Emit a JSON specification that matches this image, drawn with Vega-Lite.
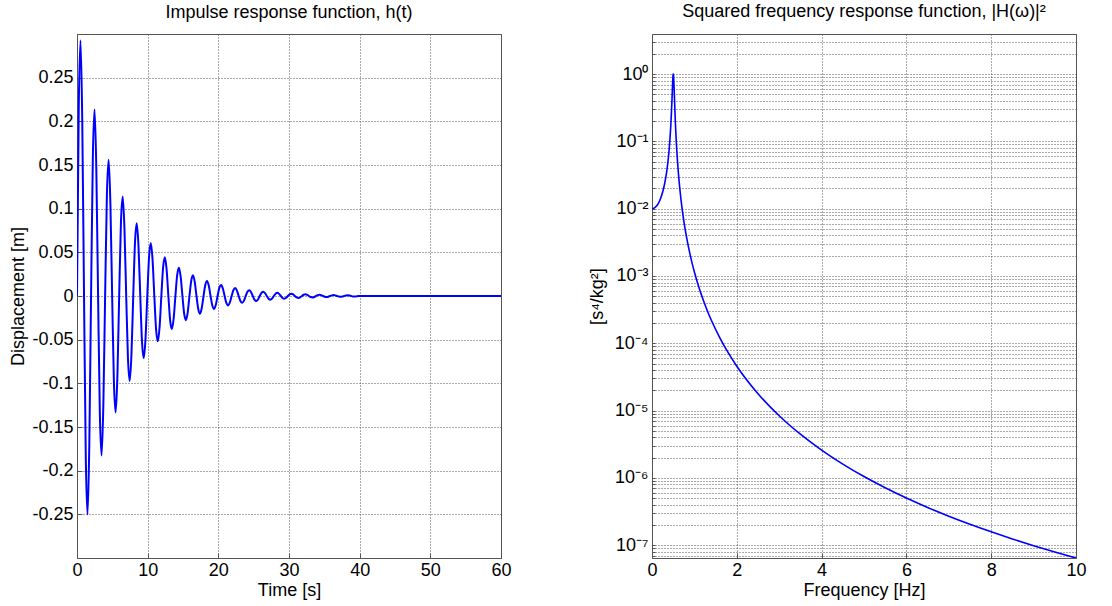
{
  "$schema": "https://vega.github.io/schema/vega-lite/v6.json",
  "padding": {"left": 9, "top": 2, "right": 5, "bottom": 5},
  "background": "white",
  "bounds": "flush",
  "spacing": 151,
  "datasets": {
    "impulse": [
      {"t":0,"h":0},{"t":0.249,"h":0.21526},{"t":0.497,"h":0.29268},{"t":0.746,"h":0.19898},{"t":0.995,"h":0},{"t":1.243,"h":-0.18393},{"t":1.492,"h":-0.25009},{"t":1.741,"h":-0.17002},
      {"t":1.989,"h":0},{"t":2.238,"h":0.15716},{"t":2.487,"h":0.21369},{"t":2.735,"h":0.14528},{"t":2.984,"h":0},{"t":3.233,"h":-0.13429},{"t":3.481,"h":-0.18259},{"t":3.730,"h":-0.12413},
      {"t":3.979,"h":0},{"t":4.228,"h":0.11475},{"t":4.476,"h":0.15602},{"t":4.725,"h":0.10607},{"t":4.974,"h":0},{"t":5.222,"h":-0.09805},{"t":5.471,"h":-0.13331},{"t":5.720,"h":-0.09063},
      {"t":5.968,"h":0},{"t":6.217,"h":0.08378},{"t":6.466,"h":0.11391},{"t":6.714,"h":0.07744},{"t":6.963,"h":0},{"t":7.212,"h":-0.07159},{"t":7.460,"h":-0.09733},{"t":7.709,"h":-0.06617},
      {"t":7.958,"h":0},{"t":8.206,"h":0.06117},{"t":8.455,"h":0.08317},{"t":8.704,"h":0.05654},{"t":8.952,"h":0},{"t":9.201,"h":-0.05227},{"t":9.450,"h":-0.07107},{"t":9.698,"h":-0.04831},
      {"t":9.947,"h":0},{"t":10.196,"h":0.04466},{"t":10.444,"h":0.06072},{"t":10.693,"h":0.04128},{"t":10.942,"h":0},{"t":11.190,"h":-0.03816},{"t":11.439,"h":-0.05189},{"t":11.688,"h":-0.03528},
      {"t":11.936,"h":0},{"t":12.185,"h":0.03261},{"t":12.434,"h":0.04434},{"t":12.682,"h":0.03014},{"t":12.931,"h":0},{"t":13.180,"h":-0.02786},{"t":13.428,"h":-0.03788},{"t":13.677,"h":-0.02576},
      {"t":13.926,"h":0},{"t":14.175,"h":0.02381},{"t":14.423,"h":0.03237},{"t":14.672,"h":0.02201},{"t":14.921,"h":0},{"t":15.169,"h":-0.02034},{"t":15.418,"h":-0.02766},{"t":15.667,"h":-0.01880},
      {"t":15.915,"h":0},{"t":16.164,"h":0.01738},{"t":16.413,"h":0.02363},{"t":16.661,"h":0.01607},{"t":16.910,"h":0},{"t":17.159,"h":-0.01485},{"t":17.407,"h":-0.02020},{"t":17.656,"h":-0.01373},
      {"t":17.905,"h":0},{"t":18.153,"h":0.01269},{"t":18.402,"h":0.01726},{"t":18.651,"h":0.01173},{"t":18.899,"h":0},{"t":19.148,"h":-0.01084},{"t":19.397,"h":-0.01475},{"t":19.645,"h":-0.01002},
      {"t":19.894,"h":0},{"t":20.143,"h":0.00927},{"t":20.391,"h":0.01260},{"t":20.640,"h":0.00857},{"t":20.889,"h":0},{"t":21.137,"h":-0.00792},{"t":21.386,"h":-0.01077},{"t":21.635,"h":-0.00732},
      {"t":21.883,"h":0},{"t":22.132,"h":0.00677},{"t":22.381,"h":0.00920},{"t":22.629,"h":0.00625},{"t":22.878,"h":0},{"t":23.127,"h":-0.00578},{"t":23.375,"h":-0.00786},{"t":23.624,"h":-0.00534},
      {"t":23.873,"h":0},{"t":24.121,"h":0.00494},{"t":24.370,"h":0.00672},{"t":24.619,"h":0.00457},{"t":24.868,"h":0},{"t":25.116,"h":-0.00422},{"t":25.365,"h":-0.00574},{"t":25.614,"h":-0.00390},
      {"t":25.862,"h":0},{"t":26.111,"h":0.00361},{"t":26.360,"h":0.00490},{"t":26.608,"h":0.00333},{"t":26.857,"h":0},{"t":27.106,"h":-0.00308},{"t":27.354,"h":-0.00419},{"t":27.603,"h":-0.00285},
      {"t":27.852,"h":0},{"t":28.100,"h":0.00263},{"t":28.349,"h":0.00358},{"t":28.598,"h":0.00243},{"t":28.846,"h":0},{"t":29.095,"h":-0.00225},{"t":29.344,"h":-0.00306},{"t":29.592,"h":-0.00208},
      {"t":29.841,"h":0},{"t":30.090,"h":0.00192},{"t":30.338,"h":0.00261},{"t":30.587,"h":0.00178},{"t":30.836,"h":0},{"t":31.084,"h":-0.00164},{"t":31.333,"h":-0.00223},{"t":31.582,"h":-0.00152},
      {"t":31.830,"h":0},{"t":32.079,"h":0.00140},{"t":32.328,"h":0.00191},{"t":32.576,"h":0.00130},{"t":32.825,"h":0},{"t":33.074,"h":-0.00120},{"t":33.322,"h":-0.00163},{"t":33.571,"h":-0.00111},
      {"t":33.820,"h":0},{"t":34.068,"h":0.00103},{"t":34.317,"h":0.00139},{"t":34.566,"h":0.00095},{"t":34.815,"h":0},{"t":35.063,"h":-0.00088},{"t":35.312,"h":-0.00119},{"t":35.561,"h":-0.00081},
      {"t":35.809,"h":0},{"t":36.058,"h":0.00075},{"t":36.307,"h":0.00102},{"t":36.555,"h":0.00069},{"t":36.804,"h":0},{"t":37.053,"h":-0.00064},{"t":37.301,"h":-0.00087},{"t":37.550,"h":-0.00059},
      {"t":37.799,"h":0},{"t":38.047,"h":0.00055},{"t":38.296,"h":0.00074},{"t":38.545,"h":0.00051},{"t":38.793,"h":0},{"t":39.042,"h":-0.00047},{"t":39.291,"h":-0.00063},{"t":39.539,"h":-0.00043},
      {"t":39.788,"h":0},{"t":60,"h":0}
    ],
    "frf": [
      {"f":0,"H":0.01},{"f":0.05,"H":0.010199},{"f":0.1,"H":0.010834},{"f":0.15,"H":0.012032},{"f":0.2,"H":0.014071},{"f":0.25,"H":0.017548},{"f":0.3,"H":0.023856},{"f":0.35,"H":0.036833},{"f":0.38,"H":0.052482},{"f":0.4,"H":0.070425},{"f":0.42,"H":0.10087},{"f":0.44,"H":0.15822},{"f":0.45,"H":0.20739},{"f":0.46,"H":0.28201},{"f":0.47,"H":0.39865},{"f":0.48,"H":0.579},{"f":0.49,"H":0.81997},{"f":0.495,"H":0.931},{"f":0.5,"H":0.99605},{"f":0.502,"H":1.0025},{"f":0.505,"H":0.98874},{"f":0.51,"H":0.91006},{"f":0.515,"H":0.78829},{"f":0.52,"H":0.65657},{"f":0.53,"H":0.43555},{"f":0.54,"H":0.29095},{"f":0.55,"H":0.20135},{"f":0.56,"H":0.14483},{"f":0.57,"H":0.10785},{"f":0.58,"H":0.082713},{"f":0.6,"H":0.052181},{"f":0.62,"H":0.035331},{"f":0.64,"H":0.025195},{"f":0.65,"H":0.021605},{"f":0.68,"H":0.014292},{"f":0.7,"H":0.011204},{"f":0.72,"H":0.0089625},{"f":0.75,"H":0.0066128},{"f":0.8,"H":0.0042448},{"f":0.85,"H":0.0028905},{"f":0.9,"H":0.0020567},{"f":0.95,"H":0.0015142},{"f":1.0,"H":0.0011456},{"f":1.1,"H":0.00069869},{"f":1.2,"H":0.00045444},{"f":1.3,"H":0.00031021},{"f":1.4,"H":0.0002199},{"f":1.6,"H":0.00012044},{"f":1.8,"H":7.1862e-5},{"f":2.0,"H":4.5674e-5},{"f":2.5,"H":1.7835e-5},{"f":3,"H":8.3842e-6},{"f":3.5,"H":4.4572e-6},{"f":4,"H":2.5872e-6},{"f":4.5,"H":1.6044e-6},{"f":5,"H":1.0476e-6},{"f":5.5,"H":7.1301e-7},{"f":6,"H":5.0209e-7},{"f":6.5,"H":3.6377e-7},{"f":7,"H":2.7e-7},{"f":7.5,"H":2.0461e-7},{"f":8,"H":1.5789e-7},{"f":8.5,"H":1.2378e-7},{"f":9,"H":9.8405e-8},{"f":9.5,"H":7.9217e-8},{"f":10,"H":6.4487e-8}
    ]
  },
  "hconcat": [
    {
      "width": 424,
      "height": 524,
      "title": {"text": "Impulse response function, h(t)", "frame": "group", "anchor": "middle"},
      "data": {"name": "impulse"},
      "mark": {"type": "line", "color": "#0000ff", "strokeWidth": 2, "interpolate": "monotone", "clip": true},
      "encoding": {
        "x": {"field": "t", "type": "quantitative", "title": "Time [s]",
              "scale": {"domain": [0, 60], "nice": false, "zero": false},
              "axis": {"values": [0, 10, 20, 30, 40, 50, 60]}},
        "y": {"field": "h", "type": "quantitative", "title": "Displacement [m]",
              "scale": {"domain": [-0.3, 0.3], "nice": false},
              "axis": {"values": [-0.25, -0.2, -0.15, -0.1, -0.05, 0, 0.05, 0.1, 0.15, 0.2, 0.25],
                       "labelExpr": "'' + datum.value"}}
      }
    },
    {
      "width": 424,
      "height": 524,
      "title": {"text": "Squared frequency response function, |H(ω)|²", "frame": "group", "anchor": "middle"},
      "data": {"name": "frf"},
      "mark": {"type": "line", "color": "#0000ff", "strokeWidth": 1.6, "interpolate": "monotone", "clip": true},
      "encoding": {
        "x": {"field": "f", "type": "quantitative", "title": "Frequency [Hz]",
              "scale": {"domain": [0, 10], "nice": false, "zero": false},
              "axis": {"values": [0, 2, 4, 6, 8, 10]}},
        "y": {"field": "H", "type": "quantitative", "title": "[s⁴/kg²]",
              "scale": {"type": "log", "domain": [6.45e-8, 3.94], "nice": false},
              "axis": {"values": [7e-8, 8e-8, 9e-8, 1e-7, 2e-7, 3e-7, 4e-7, 5e-7, 6e-7, 7e-7, 8e-7, 9e-7, 1e-6, 2e-6, 3e-6, 4e-6, 5e-6, 6e-6, 7e-6, 8e-6, 9e-6, 1e-5, 2e-5, 3e-5, 4e-5, 5e-5, 6e-5, 7e-5, 8e-5, 9e-5, 1e-4, 2e-4, 3e-4, 4e-4, 5e-4, 6e-4, 7e-4, 8e-4, 9e-4, 0.001, 0.002, 0.003, 0.004, 0.005, 0.006, 0.007, 0.008, 0.009, 0.01, 0.02, 0.03, 0.04, 0.05, 0.06, 0.07, 0.08, 0.09, 0.1, 0.2, 0.3, 0.4, 0.5, 0.6, 0.7, 0.8, 0.9, 1, 2, 3],
                       "labelExpr": "abs(log(datum.value)/LN10 - round(log(datum.value)/LN10)) > 0.01 ? '' : (round(log(datum.value)/LN10) == 0 ? '10⁰' : round(log(datum.value)/LN10) == -1 ? '10⁻¹' : round(log(datum.value)/LN10) == -2 ? '10⁻²' : round(log(datum.value)/LN10) == -3 ? '10⁻³' : round(log(datum.value)/LN10) == -4 ? '10⁻⁴' : round(log(datum.value)/LN10) == -5 ? '10⁻⁵' : round(log(datum.value)/LN10) == -6 ? '10⁻⁶' : '10⁻⁷')",
                       "tickSize": -3,
                       "labelPadding": 7,
                       "titlePadding": 8}}
      }
    }
  ],
  "config": {
    "font": "Liberation Sans",
    "view": {"stroke": "#555555", "strokeWidth": 1},
    "axis": {
      "domain": false,
      "ticks": true,
      "tickSize": -5,
      "tickColor": "#555555",
      "tickWidth": 1,
      "grid": true,
      "gridColor": "#555555",
      "gridDash": [1, 2],
      "gridWidth": 1,
      "gridOpacity": 1,
      "labelFont": "Liberation Sans",
      "labelFontSize": 18,
      "labelColor": "#000000",
      "labelFlush": false,
      "labelOverlap": false,
      "labelBound": false,
      "titleFont": "Liberation Sans",
      "titleFontSize": 18,
      "titleFontWeight": "normal",
      "titleColor": "#000000"
    },
    "axisX": {"labelPadding": 8, "titlePadding": 2},
    "axisY": {"labelPadding": 9, "titlePadding": 4},
    "title": {"font": "Liberation Sans", "fontSize": 18, "fontWeight": "normal", "color": "#000000", "offset": 12}
  }
}
